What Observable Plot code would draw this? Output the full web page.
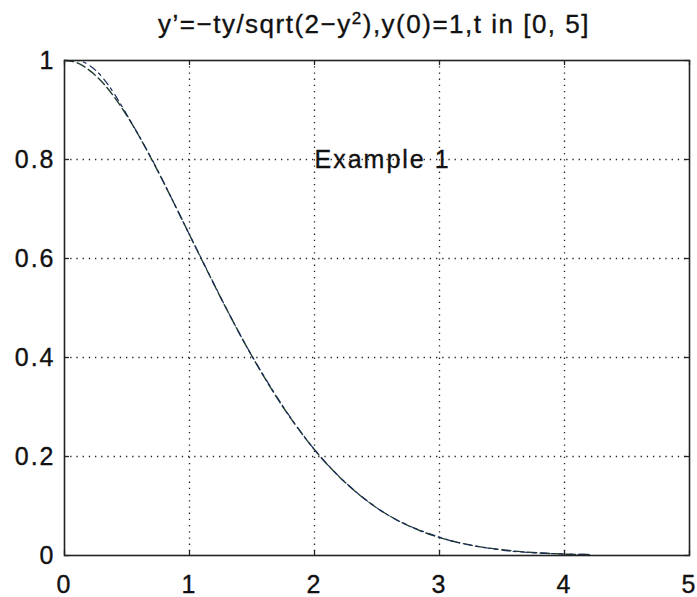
<!DOCTYPE html>
<html>
<head>
<meta charset="utf-8">
<script src="https://cdn.jsdelivr.net/npm/d3@7"></script>
<script src="https://cdn.jsdelivr.net/npm/@observablehq/plot@0.6"></script>
<style>
  html, body { margin: 0; padding: 0; background: #fff; }
  svg { display: block; }
  svg text { stroke: #111; stroke-width: 0.35px; }
</style>
</head>
<body>
<div id="chart"></div>
<script>
// Tick values
const xTicks = [0, 1, 2, 3, 4, 5];
const yTicks = [0, 0.2, 0.4, 0.6, 0.8, 1];

// Curve 1 (smooth solution)
const tExact = [0, 0.07, 0.142, 0.22, 0.324, 0.47, 0.59, 0.698, 0.899, 1.093, 1.292, 1.506, 1.748, 2.046, 2.235, 2.477, 2.845, 3.088, 3.269, 3.556, 3.822, 4.147, 4.19];
const yExact = [1, 0.998, 0.99, 0.976, 0.95, 0.9, 0.85, 0.8, 0.7, 0.6, 0.5, 0.4, 0.3, 0.2, 0.15, 0.1, 0.05, 0.03, 0.02, 0.01, 0.005, 0.002, 0.002];

// Curve 2 (numerical solution)
const tNum = [0, 0.1, 0.2, 0.3, 0.4, 0.5, 0.7, 1.0, 1.5, 2.0, 2.5, 3.0, 3.5, 4.0, 4.2];
const yNum = [1, 1.0, 0.99, 0.967, 0.932, 0.89, 0.8, 0.648, 0.403, 0.214, 0.096, 0.037, 0.011, 0.003, 0.002];

const titleMain = "y’=−ty/sqrt(2−y";
const titleSup = "2";
const titleEnd = "),y(0)=1,t in [0, 5]";
const annotation = "Example 1";
const annotX = 2;
const annotY = 0.8;

const exact = tExact.map((t, i) => ({t, y: yExact[i]}));
const numer = tNum.map((t, i) => ({t, y: yNum[i]}));

const font = "'Liberation Sans', Arial, Helvetica, sans-serif";
const ink = "#222";

const chart = Plot.plot({
  width: 697,
  height: 597,
  marginLeft: 64,
  marginRight: 8,
  marginTop: 60,
  marginBottom: 42,
  style: {fontFamily: font, fontSize: "25px", color: "#111", background: "#fff"},
  x: {domain: [0, 5], label: null},
  y: {domain: [0, 1], label: null},
  marks: [
    Plot.gridX(xTicks.slice(1, -1), {stroke: ink, strokeOpacity: 1, strokeWidth: 1.3, strokeDasharray: "1.3,4.9"}),
    Plot.gridY(yTicks.slice(1, -1), {stroke: ink, strokeOpacity: 1, strokeWidth: 1.3, strokeDasharray: "1.3,4.9"}),
    Plot.line(exact, {x: "t", y: "y", curve: "monotone-x", stroke: "#1f3d2c", strokeWidth: 1.4, strokeDasharray: "9,4"}),
    Plot.line(numer, {x: "t", y: "y", curve: "monotone-x", stroke: "#1c2c5a", strokeWidth: 1.2, strokeDasharray: "3,5,7,4"}),
    Plot.text([annotation], {x: () => annotX, y: () => annotY, textAnchor: "start", fontSize: 25, fill: "#111", style: "letter-spacing:1px"}),
    // inward tick marks on all four sides (MATLAB box style)
    Plot.ruleX(xTicks, {x: d => d, y1: 0, y2: 0, insetBottom: 5, stroke: ink, strokeWidth: 1.3}),
    Plot.ruleX(xTicks, {x: d => d, y1: 1, y2: 1, insetTop: 5, stroke: ink, strokeWidth: 1.3}),
    Plot.ruleY(yTicks, {y: d => d, x1: 0, x2: 0, insetLeft: 5, stroke: ink, strokeWidth: 1.3}),
    Plot.ruleY(yTicks, {y: d => d, x1: 5, x2: 5, insetRight: 5, stroke: ink, strokeWidth: 1.3}),
    Plot.frame({stroke: ink, strokeWidth: 1.6}),
    Plot.axisX(xTicks, {anchor: "bottom", tickSize: 0, tickPadding: 20, tickFormat: d => String(d)}),
    Plot.axisY(yTicks, {anchor: "left", tickSize: 0, tickPadding: 9, tickFormat: d => String(d)})
  ]
});

const svg = d3.select(chart);
svg.selectAll("text").style("letter-spacing", "2px");
const title = svg.append("text")
  .attr("x", 374)
  .attr("y", 33)
  .attr("text-anchor", "middle")
  .style("font-family", font)
  .style("font-size", "26px")
  .style("letter-spacing", "1.5px")
  .attr("fill", "#111");
title.append("tspan").text(titleMain);
title.append("tspan").attr("dy", -9).style("font-size", "17px").text(titleSup);
title.append("tspan").attr("dy", 9).text(titleEnd);

document.getElementById("chart").appendChild(chart);
</script>
</body>
</html>
